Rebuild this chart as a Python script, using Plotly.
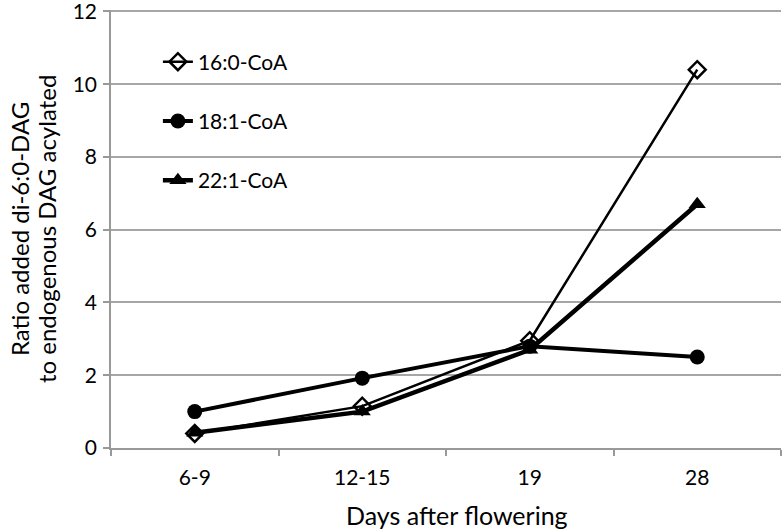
import plotly.graph_objects as go

categories = ["6-9", "12-15", "19", "28"]
series_names = ["16:0-CoA", "18:1-CoA", "22:1-CoA"]
vals_160 = [0.4, 1.15, 2.95, 10.4]
vals_181 = [1.0, 1.92, 2.8, 2.5]
vals_221 = [0.42, 1.0, 2.7, 6.7]
y_ticks = [0, 2, 4, 6, 8, 10, 12]
y_title_lines = ["Ratio added di-6:0-DAG", "to endogenous DAG acylated"]
x_title = "Days after flowering"

FONT = "Lato"
fig = go.Figure()
fig.add_trace(go.Scatter(
    x=categories, y=vals_160, name=series_names[0], mode="lines+markers",
    line=dict(color="black", width=2.5),
    marker=dict(symbol="diamond-open", size=13, color="black", line=dict(width=2.5, color="black")),
    legendgroup="a"))
fig.add_trace(go.Scatter(
    x=categories, y=vals_181, name=series_names[1], mode="lines+markers",
    line=dict(color="black", width=4),
    marker=dict(symbol="circle", size=15, color="black"),
    legendgroup="b"))
fig.add_trace(go.Scatter(
    x=categories, y=vals_221, name=series_names[2], mode="lines+markers",
    line=dict(color="black", width=4.5),
    marker=dict(symbol="triangle-up", size=15, color="black"),
    legendgroup="c"))

fig.update_layout(
    width=783, height=530,
    margin=dict(l=111, r=2, t=10, b=82, autoexpand=False),
    paper_bgcolor="white", plot_bgcolor="white",
    font=dict(family=FONT, color="black", size=16),
    showlegend=True,
    legend=dict(x=0.07, y=0.928, xanchor="left", yanchor="top",
                bgcolor="rgba(0,0,0,0)", font=dict(size=21, family=FONT),
                tracegroupgap=29, traceorder="grouped",
                borderwidth=0),
    shapes=[dict(type="rect", xref="paper", yref="paper",
                 x0=0.0254, x1=0.2955, y0=0.55, y1=0.95,
                 fillcolor="white", line=dict(width=0), layer="between")],
    annotations=[
        dict(text=y_title_lines[0], xref="paper", yref="paper", x=-0.1373, y=0.5,
             xanchor="center", yanchor="middle", textangle=-90, showarrow=False,
             font=dict(size=24, family=FONT)),
        dict(text=y_title_lines[1], xref="paper", yref="paper", x=-0.097, y=0.5,
             xanchor="center", yanchor="middle", textangle=-90, showarrow=False,
             font=dict(size=24, family=FONT)),
        dict(text=x_title, xref="paper", yref="paper", x=0.517, y=-0.153,
             xanchor="center", yanchor="middle", showarrow=False,
             font=dict(size=25, family=FONT)),
    ],
)
fig.update_xaxes(
    type="category", range=[-0.5, 3.5], automargin=False,
    showline=True, linecolor="#999999", linewidth=1.5,
    ticks="outside", tickson="boundaries", ticklen=6, tickcolor="#999999", tickwidth=1.5,
    tickfont=dict(size=21, family=FONT), ticklabelstandoff=10,
    showgrid=False,
)
fig.update_yaxes(
    range=[0, 12.04], tickvals=y_ticks, automargin=False,
    showline=True, linecolor="#999999", linewidth=1.5,
    ticks="outside", ticklen=6, tickcolor="#999999", tickwidth=1.5,
    tickfont=dict(size=21, family=FONT), ticklabelstandoff=2,
    ticklabeloverflow="allow",
    showgrid=True, gridcolor="#a6a6a6", gridwidth=1.5,
    zeroline=False,
)
fig.write_html("out.html", config={"displayModeBar": False},
               post_script="document.body.style.margin='0';document.body.style.padding='0';")
